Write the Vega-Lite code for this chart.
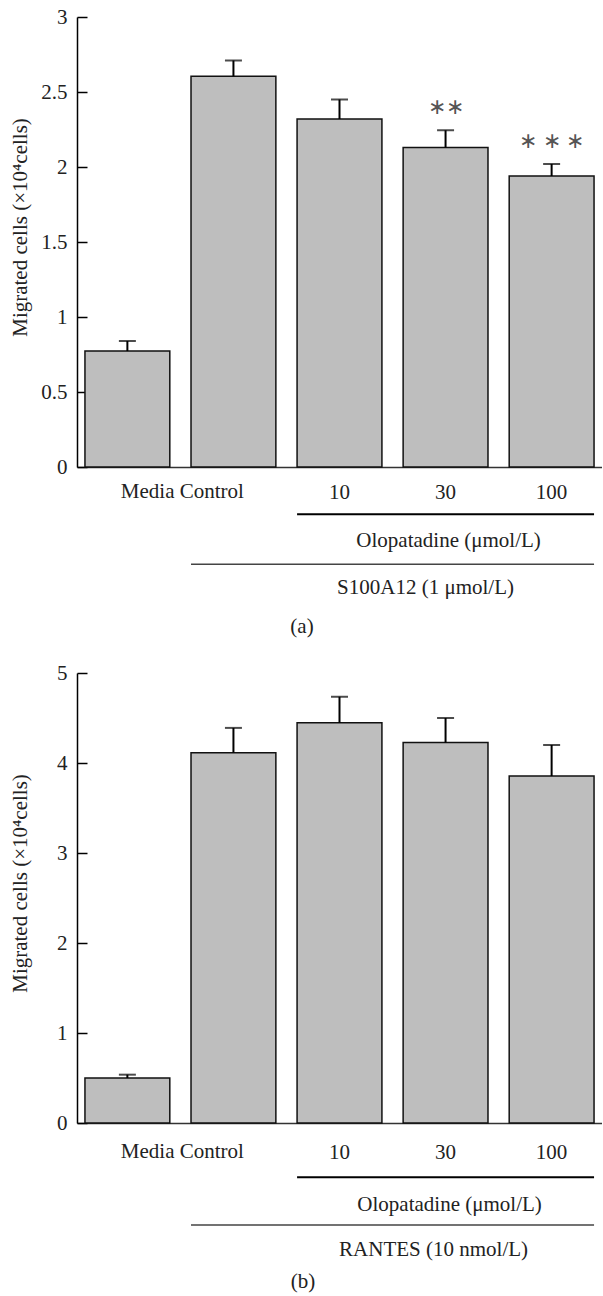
{
  "$schema": "https://vega.github.io/schema/vega-lite/v6.json",
  "padding": {"left": 9, "top": 6, "right": 0, "bottom": 0},
  "background": "white",
  "spacing": 25,
  "datasets": {
    "a": [
      {"group": "Media", "mean": 0.773, "upper": 0.84},
      {"group": "Control", "mean": 2.605, "upper": 2.71},
      {"group": "10", "mean": 2.32, "upper": 2.45},
      {"group": "30", "mean": 2.13, "upper": 2.245, "sig": "∗∗"},
      {"group": "100", "mean": 1.94, "upper": 2.02, "sig": "∗ ∗ ∗"}
    ],
    "b": [
      {"group": "Media", "mean": 0.5, "upper": 0.537},
      {"group": "Control", "mean": 4.115, "upper": 4.39},
      {"group": "10", "mean": 4.446, "upper": 4.736},
      {"group": "30", "mean": 4.227, "upper": 4.5},
      {"group": "100", "mean": 3.855, "upper": 4.2}
    ]
  },
  "vconcat": [
    {
      "width": 525,
      "height": 450,
      "layer": [
        {
          "data": {"name": "a"},
          "encoding": {
            "x": {
              "field": "group",
              "type": "nominal",
              "scale": {"domain": ["Media", "Control", "10", "30", "100"], "paddingInner": 0.2, "paddingOuter": 0.075},
              "axis": {
                "title": null,
                "ticks": false,
                "tickSize": 0,
                "labelAngle": 0,
                "labelPadding": 25,
                "labelBaseline": "middle",
                "labelExpr": "datum.value == 'Media' || datum.value == 'Control' ? '' : datum.value",
                "domainWidth": 1.5,
                "domainColor": "#333"
              }
            }
          },
          "layer": [
            {
              "mark": {"type": "bar", "fill": "#bebebe", "stroke": "#111", "strokeWidth": 1.5},
              "encoding": {
                "y": {
                  "field": "mean",
                  "type": "quantitative",
                  "scale": {"domain": [0, 3], "nice": false},
                  "axis": {
                    "title": "Migrated cells (×10⁴cells)",
                    "values": [0, 0.5, 1, 1.5, 2, 2.5, 3],
                    "format": "~g",
                    "tickSize": -10,
                    "tickWidth": 1.5,
                    "labelPadding": 20,
                    "domainWidth": 1.5,
                    "titleX": -57,
                    "titleY": 210,
                    "titleBaseline": "middle",
                    "titleAlign": "center"
                  }
                }
              }
            },
            {
              "mark": {"type": "rule", "color": "#000", "strokeWidth": 2},
              "encoding": {
                "y": {"field": "mean", "type": "quantitative"},
                "y2": {"field": "upper"}
              }
            },
            {
              "mark": {"type": "tick", "orient": "horizontal", "color": "#000", "thickness": 2, "size": 17},
              "encoding": {"y": {"field": "upper", "type": "quantitative"}}
            },
            {
              "transform": [{"filter": "datum.sig"}],
              "mark": {"type": "text", "dy": -23, "fontSize": 22, "color": "#555", "baseline": "middle"},
              "encoding": {
                "y": {"field": "upper", "type": "quantitative"},
                "text": {"field": "sig"}
              }
            }
          ]
        },
        {
          "data": {"values": [{"label": "Media Control"}]},
          "mark": {"type": "text", "dx": 55, "baseline": "middle"},
          "encoding": {
            "x": {"datum": "Media", "type": "nominal"},
            "y": {"datum": -0.165},
            "text": {"field": "label"}
          }
        },
        {
          "data": {"values": [{"label": "Olopatadine (μmol/L)", "from": "10", "to": "100"}]},
          "layer": [
            {
              "mark": {"type": "rule", "color": "#000", "strokeWidth": 2},
              "encoding": {
                "x": {"field": "from", "type": "nominal", "bandPosition": 0},
                "x2": {"field": "to", "bandPosition": 1},
                "y": {"datum": -0.315}
              }
            },
            {
              "mark": {"type": "text", "dx": 3, "baseline": "middle"},
              "encoding": {
                "x": {"datum": "30", "type": "nominal"},
                "y": {"datum": -0.493},
                "text": {"field": "label"}
              }
            }
          ]
        },
        {
          "data": {"values": [{"label": "S100A12 (1 μmol/L)", "from": "Control", "to": "100"}]},
          "layer": [
            {
              "mark": {"type": "rule", "color": "#444", "strokeWidth": 1.5},
              "encoding": {
                "x": {"field": "from", "type": "nominal", "bandPosition": 0},
                "x2": {"field": "to", "bandPosition": 1},
                "y": {"datum": -0.649}
              }
            },
            {
              "mark": {"type": "text", "dx": -20, "baseline": "middle"},
              "encoding": {
                "x": {"datum": "30", "type": "nominal"},
                "y": {"datum": -0.809},
                "text": {"field": "label"}
              }
            }
          ]
        },
        {
          "data": {"values": [{"label": "(a)"}]},
          "mark": {"type": "text", "dx": -37.5, "baseline": "middle"},
          "encoding": {
            "x": {"datum": "10", "type": "nominal"},
            "y": {"datum": -1.065},
            "text": {"field": "label"}
          }
        }
      ]
    },
    {
      "width": 525,
      "height": 450,
      "layer": [
        {
          "data": {"name": "b"},
          "encoding": {
            "x": {
              "field": "group",
              "type": "nominal",
              "scale": {"domain": ["Media", "Control", "10", "30", "100"], "paddingInner": 0.2, "paddingOuter": 0.075},
              "axis": {
                "title": null,
                "ticks": false,
                "tickSize": 0,
                "labelAngle": 0,
                "labelPadding": 29,
                "labelBaseline": "middle",
                "labelExpr": "datum.value == 'Media' || datum.value == 'Control' ? '' : datum.value",
                "domainWidth": 1.5,
                "domainColor": "#333"
              }
            }
          },
          "layer": [
            {
              "mark": {"type": "bar", "fill": "#bebebe", "stroke": "#111", "strokeWidth": 1.5},
              "encoding": {
                "y": {
                  "field": "mean",
                  "type": "quantitative",
                  "scale": {"domain": [0, 5], "nice": false},
                  "axis": {
                    "title": "Migrated cells (×10⁴cells)",
                    "values": [0, 1, 2, 3, 4, 5],
                    "format": "~g",
                    "tickSize": -10,
                    "tickWidth": 1.5,
                    "labelPadding": 20,
                    "domainWidth": 1.5,
                    "titleX": -57,
                    "titleY": 210,
                    "titleBaseline": "middle",
                    "titleAlign": "center"
                  }
                }
              }
            },
            {
              "mark": {"type": "rule", "color": "#000", "strokeWidth": 2},
              "encoding": {
                "y": {"field": "mean", "type": "quantitative"},
                "y2": {"field": "upper"}
              }
            },
            {
              "mark": {"type": "tick", "orient": "horizontal", "color": "#000", "thickness": 2, "size": 17},
              "encoding": {"y": {"field": "upper", "type": "quantitative"}}
            }
          ]
        },
        {
          "data": {"values": [{"label": "Media Control"}]},
          "mark": {"type": "text", "dx": 55, "baseline": "middle"},
          "encoding": {
            "x": {"datum": "Media", "type": "nominal"},
            "y": {"datum": -0.322},
            "text": {"field": "label"}
          }
        },
        {
          "data": {"values": [{"label": "Olopatadine (μmol/L)", "from": "10", "to": "100"}]},
          "layer": [
            {
              "mark": {"type": "rule", "color": "#000", "strokeWidth": 2},
              "encoding": {
                "x": {"field": "from", "type": "nominal", "bandPosition": 0},
                "x2": {"field": "to", "bandPosition": 1},
                "y": {"datum": -0.603}
              }
            },
            {
              "mark": {"type": "text", "dx": 4, "baseline": "middle"},
              "encoding": {
                "x": {"datum": "30", "type": "nominal"},
                "y": {"datum": -0.911},
                "text": {"field": "label"}
              }
            }
          ]
        },
        {
          "data": {"values": [{"label": "RANTES (10 nmol/L)", "from": "Control", "to": "100"}]},
          "layer": [
            {
              "mark": {"type": "rule", "color": "#444", "strokeWidth": 1.5},
              "encoding": {
                "x": {"field": "from", "type": "nominal", "bandPosition": 0},
                "x2": {"field": "to", "bandPosition": 1},
                "y": {"datum": -1.133}
              }
            },
            {
              "mark": {"type": "text", "dx": -12, "baseline": "middle"},
              "encoding": {
                "x": {"datum": "30", "type": "nominal"},
                "y": {"datum": -1.411},
                "text": {"field": "label"}
              }
            }
          ]
        },
        {
          "data": {"values": [{"label": "(b)"}]},
          "mark": {"type": "text", "dx": -36.5, "baseline": "middle"},
          "encoding": {
            "x": {"datum": "10", "type": "nominal"},
            "y": {"datum": -1.77},
            "text": {"field": "label"}
          }
        }
      ]
    }
  ],
  "config": {
    "view": {"stroke": null},
    "font": "Liberation Serif",
    "text": {"font": "Liberation Serif", "fontSize": 21, "color": "#222"},
    "axis": {
      "labelFont": "Liberation Serif",
      "titleFont": "Liberation Serif",
      "labelFontSize": 21,
      "titleFontSize": 21,
      "titleFontWeight": "normal",
      "labelColor": "#222",
      "titleColor": "#222",
      "domainColor": "#000",
      "tickColor": "#000",
      "grid": false
    }
  }
}
